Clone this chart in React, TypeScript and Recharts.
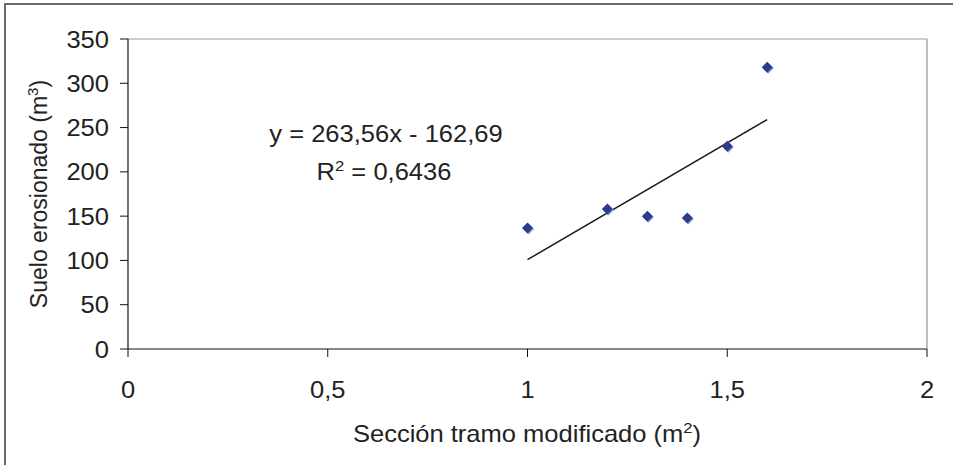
import React from 'react';
import {
  ScatterChart,
  Scatter,
  XAxis,
  YAxis,
  ReferenceLine,
  Customized,
} from 'recharts';

const seccion = [1, 1.2, 1.3, 1.4, 1.5, 1.6];
const suelo = [136.5, 158, 150, 148, 229, 318];
const xTicks = [0, 0.5, 1, 1.5, 2];
const yTicks = [0, 50, 100, 150, 200, 250, 300, 350];
const trendSlope = 263.56;
const trendIntercept = -162.69;
const trendRange = [1, 1.6];
const eqLine = 'y = 263,56x - 162,69';
const r2Value = '0,6436';

const data = seccion.map((x, i) => ({ x, y: suelo[i] }));
const trendSegment = trendRange.map((x) => ({ x, y: trendSlope * x + trendIntercept }));

const FONT = '"Liberation Sans", Arial, sans-serif';
const TEXT = '#222';
const FS = 23;
const SX = 1.11;

const fmt = (v: number) => String(v).replace('.', ',');

const SText = ({ x, y, anchor, children }: any) => (
  <g transform={`translate(${x},${y}) scale(${SX},1)`}>
    <text x={0} y={0} textAnchor={anchor} fontFamily={FONT} fontSize={FS} fill={TEXT}>
      {children}
    </text>
  </g>
);

const Diamond = (props: any) => {
  const { cx, cy } = props;
  const r = 5.5;
  const pts = (ox: number, oy: number) =>
    `${cx + ox},${cy + oy - r} ${cx + ox + r},${cy + oy} ${cx + ox},${cy + oy + r} ${cx + ox - r},${cy + oy}`;
  return (
    <g>
      <polygon points={pts(1, 1)} fill="#8a9ad6" />
      <polygon points={pts(0, 0)} fill="#2c3b8e" />
    </g>
  );
};

const XTick = (props: any) => (
  <SText x={props.x} y={props.y + 41} anchor="middle">
    {fmt(props.payload.value)}
  </SText>
);

const YTick = (props: any) => (
  <SText x={props.x} y={props.y + 8.5} anchor="end">
    {fmt(props.payload.value)}
  </SText>
);

const YLabel = () => (
  <text
    x={47}
    y={194}
    transform="rotate(-90, 47, 194)"
    textAnchor="middle"
    fontFamily={FONT}
    fontSize={FS}
    fill={TEXT}
  >
    Suelo erosionado (m<tspan dy={-9} fontSize={15}>3</tspan><tspan dy={9}>)</tspan>
  </text>
);

const XLabel = () => (
  <SText x={527} y={442} anchor="middle">
    Sección tramo modificado (m<tspan dy={-9} fontSize={15}>2</tspan><tspan dy={9}>)</tspan>
  </SText>
);

const Equation = () => (
  <g>
    <SText x={386} y={142} anchor="middle">{eqLine}</SText>
    <SText x={384} y={180} anchor="middle">
      R<tspan dy={-9} fontSize={15}>2</tspan><tspan dy={9}> = {r2Value}</tspan>
    </SText>
  </g>
);

export default function App() {
  return (
    <div style={{ position: 'absolute', left: 0, top: 0, width: 953, height: 465, background: '#fff' }}>
      <div
        style={{
          position: 'absolute',
          left: 4,
          top: 3,
          right: 0,
          bottom: 0,
          borderTop: '2px solid #6a6a6a',
          borderLeft: '2px solid #6a6a6a',
        }}
      />
      <div style={{ position: 'absolute', left: 0, top: 0 }}>
        <ScatterChart width={953} height={465} margin={{ top: 39, right: 26, left: 0, bottom: 0 }}>
          <XAxis
            type="number"
            dataKey="x"
            domain={[0, 2]}
            ticks={xTicks}
            height={116}
            axisLine={{ stroke: '#111', strokeWidth: 1.2 }}
            tickLine={{ stroke: '#111' }}
            tickSize={8}
            tickMargin={0}
            tick={<XTick />}
            allowDataOverflow
          />
          <YAxis
            type="number"
            dataKey="y"
            domain={[0, 350]}
            ticks={yTicks}
            width={128}
            axisLine={{ stroke: '#111', strokeWidth: 1.2 }}
            tickLine={{ stroke: '#111' }}
            tickSize={8}
            tickMargin={11}
            tick={<YTick />}
            allowDataOverflow
          />
          <ReferenceLine y={350} stroke="#9a9a9a" strokeWidth={1.2} />
          <ReferenceLine x={2} stroke="#aaaaaa" strokeWidth={1.5} />
          <ReferenceLine segment={trendSegment} stroke="#1a1a1a" strokeWidth={1.5} ifOverflow="visible" />
          <Scatter data={data} shape={<Diamond />} isAnimationActive={false} />
          <Customized component={<Equation />} />
          <Customized component={<YLabel />} />
          <Customized component={<XLabel />} />
        </ScatterChart>
      </div>
    </div>
  );
}
